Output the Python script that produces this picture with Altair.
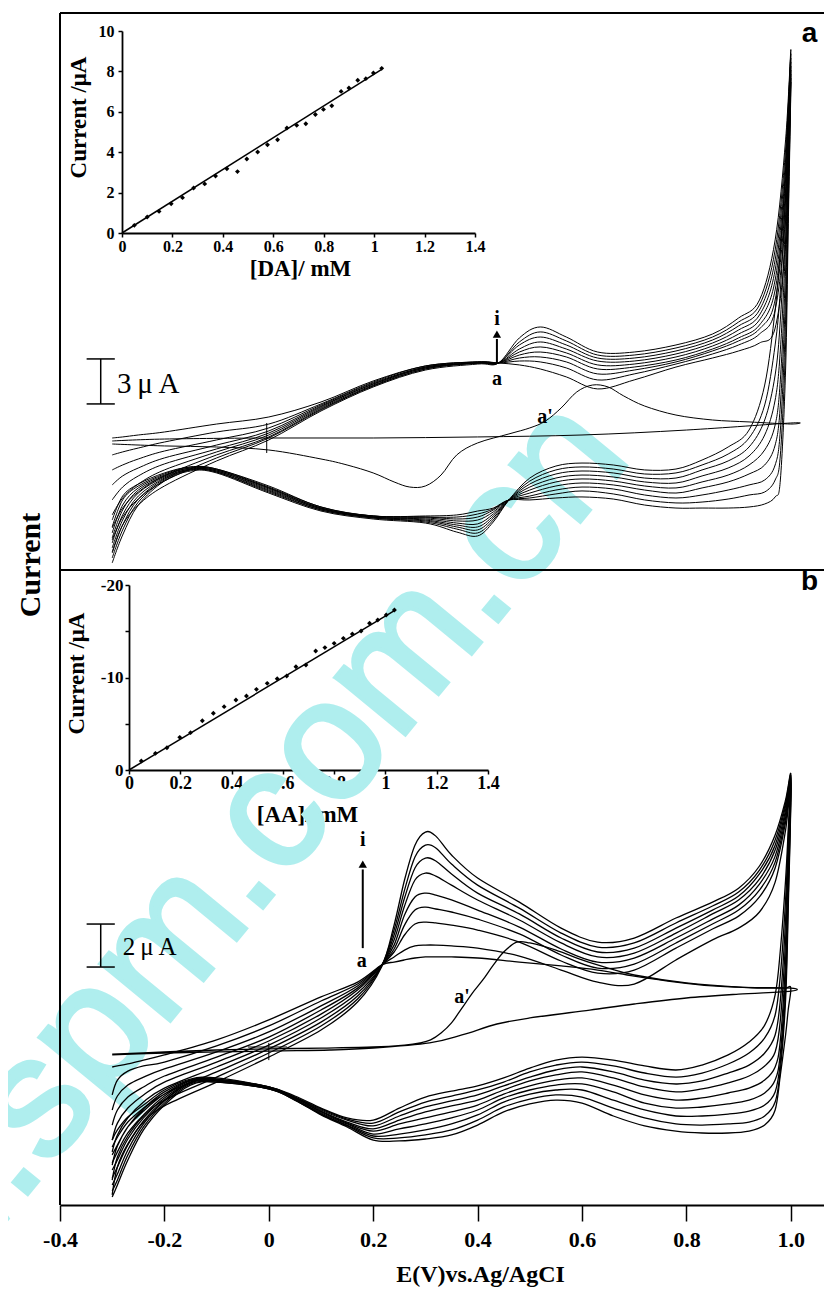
import altair as alt
import pandas as pd

W, H = 764, 1192

# ---------------- panel a : DA voltammograms (E in V, I in uA) ----------------
A_FWD_E = [-0.30, -0.28, -0.25, -0.20, -0.10, 0.00, 0.10, 0.20, 0.30, 0.40, 0.44,
           0.48, 0.52, 0.57, 0.63, 0.70, 0.78, 0.85, 0.90, 0.94, 0.97, 0.99, 1.00]
A_REV_E = [1.00, 0.995, 0.99, 0.98, 0.97, 0.95, 0.92, 0.88, 0.83, 0.78, 0.72, 0.66, 0.60, 0.55, 0.50,
           0.46, 0.43, 0.40, 0.36, 0.30, 0.20, 0.10, 0.00, -0.10, -0.15, -0.20, -0.25, -0.28, -0.30]
A_FWD = [
    [0, 0.07, 0.2, 0.4, 0.93, 1.4, 2.4, 3.8, 4.8, 5.07, 5.0, 4.87, 4.6, 4.07, 3.27, 3.87, 4.73, 5.33, 5.8, 6.33, 7.33, 13.2, 23.73],
    [-1.13, -0.93, -0.67, -0.27, 0.4, 0.93, 2.27, 3.73, 4.8, 5.07, 5.0, 5.13, 5.07, 4.67, 3.87, 4.27, 4.93, 5.6, 6.2, 6.93, 8.53, 14.87, 24.0],
    [-2.13, -1.8, -1.4, -0.87, -0.13, 0.67, 2.2, 3.67, 4.73, 5.07, 5.0, 5.33, 5.4, 5.07, 4.27, 4.53, 5.07, 5.8, 6.47, 7.27, 9.2, 15.87, 24.27],
    [-3.13, -2.53, -2.0, -1.33, -0.47, 0.47, 2.13, 3.6, 4.73, 5.0, 5.0, 5.53, 5.73, 5.4, 4.6, 4.73, 5.2, 5.93, 6.67, 7.53, 9.87, 16.53, 24.53],
    [-4.13, -3.27, -2.53, -1.73, -0.73, 0.33, 2.07, 3.6, 4.67, 5.0, 5.0, 5.73, 6.07, 5.67, 4.87, 4.93, 5.4, 6.13, 6.93, 7.87, 10.53, 17.2, 24.8],
    [-5.13, -4.0, -3.07, -2.13, -0.93, 0.2, 2.0, 3.53, 4.67, 5.0, 5.0, 5.93, 6.4, 5.93, 5.13, 5.13, 5.6, 6.33, 7.2, 8.2, 11.2, 17.87, 25.07],
    [-6.0, -4.67, -3.6, -2.53, -1.13, 0.07, 1.93, 3.47, 4.6, 5.0, 5.0, 6.2, 6.73, 6.2, 5.33, 5.33, 5.8, 6.53, 7.47, 8.53, 11.87, 18.53, 25.33],
    [-6.8, -5.27, -4.07, -2.87, -1.33, 0, 1.87, 3.47, 4.6, 5.0, 5.0, 6.4, 7.07, 6.47, 5.53, 5.53, 6.0, 6.73, 7.73, 8.87, 12.53, 19.2, 25.6],
    [-7.6, -5.8, -4.47, -3.2, -1.53, -0.13, 1.8, 3.4, 4.53, 4.93, 5.0, 6.67, 7.4, 6.73, 5.73, 5.73, 6.2, 6.93, 8.0, 9.2, 13.2, 19.87, 25.87],
]
A_REV = [
    [23.73, 13.87, 4.53, -2.8, -3.93, -4.4, -4.6, -4.67, -4.67, -4.67, -4.47, -4.07, -3.93, -4.0, -4.13, -4.13, -4.67, -4.87, -5.13, -5.2, -5.2, -4.6, -3.2, -2.07, -1.93, -2.33, -3.07, -3.87, -5.47],
    [24.0, 14.87, 6.2, -1.13, -2.8, -3.6, -3.8, -4.07, -4.27, -4.33, -4.13, -3.73, -3.53, -3.73, -4.0, -4.13, -4.73, -5.07, -5.27, -5.27, -5.2, -4.6, -3.27, -2.07, -1.93, -2.4, -3.2, -4.13, -5.93],
    [24.27, 15.87, 7.87, 0.53, -1.8, -2.8, -3.13, -3.47, -3.8, -4.0, -3.8, -3.4, -3.27, -3.47, -3.87, -4.13, -4.8, -5.27, -5.4, -5.27, -5.2, -4.67, -3.33, -2.13, -2.0, -2.47, -3.33, -4.47, -6.33],
    [24.53, 16.87, 9.53, 2.2, -0.47, -1.8, -2.4, -2.93, -3.33, -3.67, -3.47, -3.13, -3.0, -3.2, -3.67, -4.13, -4.93, -5.47, -5.53, -5.33, -5.27, -4.67, -3.33, -2.13, -2.0, -2.53, -3.47, -4.8, -6.67],
    [24.8, 17.87, 11.2, 3.87, 0.87, -0.8, -1.8, -2.47, -2.93, -3.33, -3.2, -2.87, -2.73, -2.93, -3.47, -4.13, -5.07, -5.73, -5.67, -5.4, -5.27, -4.73, -3.4, -2.2, -2.07, -2.6, -3.67, -5.13, -7.0],
    [25.07, 18.87, 12.87, 5.87, 2.53, 0.2, -1.2, -2.0, -2.53, -3.0, -2.93, -2.6, -2.47, -2.67, -3.27, -4.13, -5.2, -5.93, -5.8, -5.47, -5.27, -4.73, -3.47, -2.2, -2.07, -2.67, -3.87, -5.47, -7.33],
    [25.33, 19.87, 14.53, 7.87, 4.2, 1.2, -0.6, -1.53, -2.13, -2.67, -2.67, -2.33, -2.2, -2.4, -3.07, -4.13, -5.33, -6.13, -5.93, -5.53, -5.33, -4.8, -3.53, -2.27, -2.13, -2.73, -4.07, -5.8, -7.67],
    [25.6, 20.87, 16.2, 9.87, 6.2, 2.2, 0, -1.07, -1.8, -2.33, -2.4, -2.07, -1.93, -2.13, -2.87, -4.13, -5.47, -6.33, -6.07, -5.6, -5.33, -4.8, -3.6, -2.27, -2.13, -2.8, -4.27, -6.13, -8.0],
    [25.87, 21.87, 17.87, 12.53, 8.53, 3.53, 0.53, -0.6, -1.47, -2.07, -2.13, -1.8, -1.67, -1.87, -2.67, -4.13, -5.6, -6.53, -6.27, -5.67, -5.4, -4.87, -3.67, -2.33, -2.2, -2.87, -4.47, -6.47, -8.33],
]
# curve a'
A_P_FWD_E = [-0.30, -0.20, -0.10, 0.00, 0.10, 0.15, 0.20, 0.24, 0.27, 0.30, 0.33, 0.36, 0.40, 0.46,
             0.50, 0.53, 0.56, 0.59, 0.62, 0.65, 0.68, 0.72, 0.78, 0.85, 0.92, 1.00]
A_P_FWD_I = [-0.4, -0.53, -0.6, -0.8, -1.4, -1.8, -2.33, -2.93, -3.27, -3.2, -2.47, -1.13, -0.33, 0.27,
             0.67, 1.13, 2.0, 3.07, 3.53, 3.4, 2.8, 2.13, 1.53, 1.2, 1.07, 0.93]
A_P_REV_E = [1.00, 0.80, 0.60, 0.40, 0.20, 0.00, -0.20, -0.30]
A_P_REV_I = [1.0, 0.53, 0.2, 0.07, 0.0, 0.0, -0.07, -0.2]

# ---------------- panel b : AA voltammograms ----------------
B_FWD_E = [-0.30, -0.29, -0.27, -0.24, -0.20, -0.10, 0.00, 0.10, 0.17, 0.216,
           0.24, 0.26, 0.28, 0.30, 0.32, 0.35, 0.40, 0.48, 0.56, 0.63, 0.70, 0.78, 0.85, 0.90, 0.94, 0.97, 0.99, 1.00]
B_REV_E = [1.00, 0.995, 0.99, 0.98, 0.97, 0.95, 0.92, 0.88, 0.83, 0.78, 0.72, 0.66, 0.60, 0.55, 0.50, 0.45,
           0.40, 0.35, 0.30, 0.25, 0.20, 0.15, 0.10, 0.05, 0.00, -0.10, -0.15, -0.20, -0.24, -0.27, -0.29, -0.30]
B_FWD = [
    [-0.79, -0.74, -0.65, -0.47, -0.23, 0.47, 1.40, 2.47, 3.16, 3.95, 4.09, 4.19, 4.28, 4.33, 4.33, 4.33, 4.28, 4.09, 3.91, 3.72, 3.44, 3.16, 2.98, 2.93, 2.88, 2.88, 2.88, 2.88],
    [-2.09, -1.40, -0.98, -0.74, -0.56, 0.19, 1.12, 2.28, 3.07, 3.95, 4.33, 4.65, 4.84, 4.88, 4.88, 4.84, 4.74, 4.37, 3.72, 3.16, 3.07, 4.19, 5.12, 5.67, 6.42, 7.81, 10.23, 12.09],
    [-2.79, -2.14, -1.63, -1.26, -0.88, -0.09, 0.84, 2.05, 2.98, 3.95, 4.56, 5.35, 5.86, 5.95, 5.91, 5.81, 5.58, 5.02, 4.14, 3.58, 3.72, 4.74, 5.63, 6.23, 7.12, 8.47, 10.60, 12.28],
    [-3.49, -2.79, -2.19, -1.72, -1.21, -0.33, 0.60, 1.86, 2.88, 3.95, 4.70, 5.81, 6.51, 6.65, 6.56, 6.42, 6.09, 5.40, 4.42, 3.81, 4.0, 4.98, 5.86, 6.51, 7.44, 8.74, 10.79, 12.37],
    [-4.19, -3.40, -2.70, -2.09, -1.49, -0.56, 0.42, 1.67, 2.79, 3.95, 4.88, 6.28, 7.12, 7.30, 7.21, 6.98, 6.51, 5.72, 4.70, 4.09, 4.28, 5.21, 6.09, 6.74, 7.72, 9.02, 10.98, 12.47],
    [-4.74, -3.95, -3.16, -2.42, -1.77, -0.79, 0.23, 1.49, 2.65, 3.91, 5.12, 6.70, 7.91, 8.23, 8.09, 7.67, 6.98, 6.05, 4.98, 4.33, 4.51, 5.44, 6.33, 6.98, 7.95, 9.30, 11.16, 12.56],
    [-5.35, -4.47, -3.58, -2.74, -2.05, -1.02, 0.05, 1.30, 2.51, 3.91, 5.35, 7.07, 8.47, 8.93, 8.79, 8.19, 7.30, 6.33, 5.21, 4.56, 4.74, 5.67, 6.51, 7.16, 8.19, 9.53, 11.35, 12.65],
    [-6.05, -4.98, -4.0, -3.07, -2.33, -1.26, -0.14, 1.12, 2.37, 3.91, 5.58, 7.44, 8.98, 9.53, 9.40, 8.65, 7.67, 6.60, 5.44, 4.79, 4.98, 5.91, 6.70, 7.35, 8.37, 9.77, 11.49, 12.74],
    [-6.74, -5.44, -4.37, -3.35, -2.60, -1.49, -0.33, 0.93, 2.23, 3.86, 5.81, 7.91, 9.53, 10.14, 9.95, 9.07, 8.0, 6.88, 5.67, 5.02, 5.21, 6.14, 6.88, 7.53, 8.56, 10.0, 11.63, 12.84],
]
B_REV = [
    [2.88, 1.86, 0.70, -1.16, -2.79, -3.49, -3.77, -3.86, -3.86, -3.77, -3.53, -3.07, -2.47, -2.33, -2.51, -2.88, -3.49, -3.95, -4.14, -4.23, -4.19, -3.58, -3.02, -2.33, -1.81, -1.49, -1.63, -2.56, -3.72, -5.12, -6.28, -6.84],
    [12.09, 6.51, 2.33, -0.93, -2.42, -3.07, -3.35, -3.44, -3.49, -3.44, -3.16, -2.70, -2.19, -2.09, -2.28, -2.65, -3.26, -3.72, -3.95, -4.09, -4.09, -3.53, -2.98, -2.33, -1.81, -1.49, -1.58, -2.47, -3.58, -4.88, -6.05, -6.56],
    [12.28, 6.98, 2.79, -0.56, -1.95, -2.56, -2.84, -2.98, -3.07, -3.07, -2.79, -2.33, -1.86, -1.86, -2.05, -2.42, -3.02, -3.44, -3.72, -3.91, -4.0, -3.49, -2.98, -2.28, -1.81, -1.44, -1.53, -2.37, -3.44, -4.65, -5.77, -6.28],
    [12.37, 7.53, 3.49, -0.14, -1.40, -2.0, -2.33, -2.51, -2.65, -2.70, -2.47, -1.95, -1.58, -1.63, -1.86, -2.23, -2.79, -3.16, -3.44, -3.67, -3.91, -3.44, -2.93, -2.28, -1.77, -1.44, -1.49, -2.33, -3.30, -4.42, -5.44, -5.95],
    [12.47, 8.14, 4.19, 0.47, -0.79, -1.40, -1.77, -2.0, -2.23, -2.33, -2.09, -1.63, -1.30, -1.40, -1.67, -2.05, -2.56, -2.88, -3.16, -3.44, -3.77, -3.40, -2.88, -2.23, -1.77, -1.40, -1.49, -2.23, -3.16, -4.14, -5.12, -5.58],
    [12.56, 8.74, 5.12, 1.40, -0.09, -0.74, -1.21, -1.53, -1.81, -1.95, -1.72, -1.30, -1.02, -1.16, -1.44, -1.86, -2.33, -2.60, -2.88, -3.26, -3.67, -3.35, -2.84, -2.23, -1.77, -1.40, -1.44, -2.14, -3.02, -3.86, -4.74, -5.26],
    [12.65, 9.30, 6.05, 2.33, 0.70, -0.14, -0.70, -1.07, -1.44, -1.58, -1.40, -1.02, -0.79, -0.93, -1.26, -1.67, -2.09, -2.37, -2.65, -3.07, -3.53, -3.26, -2.79, -2.19, -1.72, -1.35, -1.40, -2.05, -2.84, -3.58, -4.42, -4.88],
    [12.74, 9.77, 6.98, 3.49, 1.63, 0.56, -0.14, -0.65, -1.07, -1.26, -1.07, -0.74, -0.56, -0.70, -1.02, -1.49, -1.86, -2.14, -2.42, -2.88, -3.40, -3.21, -2.74, -2.19, -1.72, -1.35, -1.40, -1.95, -2.70, -3.35, -4.05, -4.51],
    [12.84, 10.23, 7.91, 4.65, 2.56, 1.16, 0.37, -0.23, -0.70, -0.93, -0.74, -0.47, -0.33, -0.47, -0.84, -1.30, -1.67, -1.91, -2.19, -2.70, -3.26, -3.16, -2.70, -2.14, -1.72, -1.30, -1.35, -1.86, -2.56, -3.12, -3.72, -4.19],
]
B_P_FWD_E = [-0.30, -0.20, -0.10, 0.00, 0.10, 0.20, 0.26, 0.29, 0.31, 0.33, 0.35, 0.37, 0.39, 0.41, 0.43,
             0.45, 0.475, 0.50, 0.55, 0.60, 0.65, 0.70, 0.80, 0.90, 1.00]
B_P_FWD_I = [-0.19, -0.09, 0.0, 0.05, 0.09, 0.14, 0.23, 0.33, 0.47, 0.79, 1.26, 1.95, 2.65, 3.26, 3.95,
             4.56, 5.02, 4.98, 4.65, 4.19, 3.81, 3.49, 3.12, 2.93, 2.88]
B_P_REV_E = [1.00, 0.90, 0.80, 0.70, 0.615, 0.50, 0.437, 0.37, 0.308, 0.20, 0.117, 0.00, -0.20, -0.30]
B_P_REV_I = [2.74, 2.60, 2.42, 2.14, 1.86, 1.49, 1.21, 0.70, 0.33, 0.09, 0.0, -0.05, -0.14, -0.23]

# ---------------- insets ----------------
DA_CONC = [0.049, 0.10, 0.147, 0.195, 0.24, 0.284, 0.328, 0.371, 0.416, 0.458, 0.495, 0.538, 0.577,
           0.617, 0.654, 0.693, 0.729, 0.767, 0.799, 0.832, 0.869, 0.90, 0.935, 0.967, 0.997, 1.03]
DA_CURR = [0.38, 0.79, 1.07, 1.45, 1.75, 2.23, 2.43, 2.82, 3.18, 3.04, 3.66, 4.01, 4.37, 4.62, 5.2,
           5.33, 5.41, 5.87, 6.12, 6.30, 7.01, 7.18, 7.56, 7.64, 7.92, 8.15]
DA_FIT_X = [0.0, 1.03]
DA_FIT_Y = [0.0, 8.1]
AA_CONC = [0.048, 0.103, 0.148, 0.198, 0.24, 0.286, 0.329, 0.371, 0.417, 0.458, 0.497, 0.539, 0.578,
           0.615, 0.651, 0.69, 0.728, 0.764, 0.80, 0.836, 0.871, 0.905, 0.938, 0.97, 1.003, 1.035]
AA_CURR = [-0.97, -1.80, -2.41, -3.53, -4.04, -5.33, -6.13, -6.85, -7.57, -8.0, -8.72, -9.37, -9.87,
           -10.16, -11.17, -11.35, -12.86, -13.23, -13.69, -14.23, -14.70, -15.03, -15.86, -16.22, -16.76, -17.30]
AA_FIT_X = [0.0, 1.04]
AA_FIT_Y = [0.0, -17.3]

X_TICKS = [-0.4, -0.2, 0.0, 0.2, 0.4, 0.6, 0.8, 1.0]
INSET_X_TICKS = [0, 0.2, 0.4, 0.6, 0.8, 1.0, 1.2, 1.4]
DA_Y_TICKS = [0, 2, 4, 6, 8, 10]
AA_Y_TICKS = [0, -5, -10, -15, -20]

# ---------------- build tables ----------------
for rows, grid in ((A_FWD, A_FWD_E), (A_REV, A_REV_E), (B_FWD, B_FWD_E), (B_REV, B_REV_E)):
    for r in rows:
        assert len(r) == len(grid), (len(r), len(grid))


def path_points(fe, fi, re_, ri):
    pts = list(zip(fe, fi))
    back = list(zip(re_, ri))
    if back and pts and back[0] == pts[-1]:
        back = back[1:]          # the sweep turns at the same vertex
    return pts + back


def loop_table(fwd_e, fwd, rev_e, rev, prime):
    recs = []
    for k, (f, r) in enumerate(zip(fwd, rev)):
        for o, (e, i) in enumerate(path_points(fwd_e, f, rev_e, r)):
            recs.append({"E": e, "I": i, "curve": f"c{k}", "o": o})
    for o, (e, i) in enumerate(path_points(*prime)):
        recs.append({"E": e, "I": i, "curve": "prime", "o": o})
    return pd.DataFrame(recs)


dfa = loop_table(A_FWD_E, A_FWD, A_REV_E, A_REV, (A_P_FWD_E, A_P_FWD_I, A_P_REV_E, A_P_REV_I))
dfb = loop_table(B_FWD_E, B_FWD, B_REV_E, B_REV, (B_P_FWD_E, B_P_FWD_I, B_P_REV_E, B_P_REV_I))

XSC = alt.Scale(domain=[-0.4, 1.0636], range=[0, W], nice=False, zero=False)
YA = alt.Scale(domain=[-8.8, 28.33], range=[557, 0], nice=False, zero=False)
YB = alt.Scale(domain=[-7.21, 22.33], range=[H, 557], nice=False, zero=False)
SERIF = "Liberation Serif"


def X(field="E", axis=None):
    return alt.X(f"{field}:Q", scale=XSC, axis=axis)


def Y(scale, field="I"):
    return alt.Y(f"{field}:Q", scale=scale, axis=None)


def rule_layer(recs, yscale):
    return alt.Chart(pd.DataFrame(recs)).mark_rule(color="black").encode(
        x=X(), x2="E2:Q", y=Y(yscale), y2="I2:Q",
        strokeWidth=alt.StrokeWidth("w:Q", scale=None))


def text_layer(recs, yscale, **kw):
    return alt.Chart(pd.DataFrame(recs)).mark_text(color="black", **kw).encode(
        x=X(), y=Y(yscale), text="t:N")


main_x_axis = alt.Axis(
    orient="bottom", values=X_TICKS, tickSize=16, tickWidth=1.5, tickColor="black",
    domainColor="black", domainWidth=2, labelFlush=False, labelOverlap=False,
    labelExpr="datum.value == 0 ? '0' : (datum.value < 0 ? '-' + format(-datum.value, '.1f') : format(datum.value, '.1f'))",
    labelFont=SERIF, labelFontSize=22, labelFontWeight="bold", labelColor="black", labelPadding=8,
    title="E(V)vs.Ag/AgCI", titleFont=SERIF, titleFontSize=24, titleFontWeight="bold", titleColor="black",
    titleX=420, titleY=69, titleBaseline="middle", grid=False)

watermark = alt.Chart(pd.DataFrame({"E": [-0.111], "I": [3.67], "t": ["www.spm.com.cn"]})).mark_text(
    font="Liberation Sans", fontSize=171, angle=309.4, color="#afeeee", stroke="#afeeee",
    strokeWidth=4, align="center", baseline="alphabetic").encode(x=X(), y=Y(YB), text="t:N")

frame_a = rule_layer([
    {"E": -0.4, "E2": 1.0636, "I": 28.33, "I2": 28.33, "w": 2},
    {"E": -0.4, "E2": 1.0636, "I": -8.8, "I2": -8.8, "w": 2},
    {"E": -0.4, "E2": -0.4, "I": -8.8, "I2": 28.33, "w": 2},
    # crosshair at E = 0
    {"E": -0.004, "E2": -0.004, "I": -1.0, "I2": 1.0, "w": 1},
    # scale bar 3 uA
    {"E": -0.322, "E2": -0.322, "I": 2.27, "I2": 5.27, "w": 1.5},
    {"E": -0.349, "E2": -0.295, "I": 2.27, "I2": 2.27, "w": 1.5},
    {"E": -0.349, "E2": -0.295, "I": 5.27, "I2": 5.27, "w": 1.5},
    # arrow shaft
    {"E": 0.437, "E2": 0.437, "I": 5.0, "I2": 6.6, "w": 2},
], YA)

frame_b = rule_layer([
    {"E": -0.4, "E2": -0.4, "I": -7.21, "I2": 22.33, "w": 2},
    {"E": 0.0, "E2": 0.0, "I": -0.47, "I2": 0.33, "w": 1},
    {"E": -0.04, "E2": 0.035, "I": 0.14, "I2": 0.14, "w": 1},
    {"E": -0.322, "E2": -0.322, "I": 3.86, "I2": 5.86, "w": 1.5},
    {"E": -0.349, "E2": -0.295, "I": 3.86, "I2": 3.86, "w": 1.5},
    {"E": -0.349, "E2": -0.295, "I": 5.86, "I2": 5.86, "w": 1.5},
    {"E": 0.18, "E2": 0.18, "I": 4.74, "I2": 8.4, "w": 2},
], YB)

curves_a = alt.Chart(dfa).mark_line(color="black", strokeWidth=1, interpolate="cardinal").encode(
    x=X(), y=Y(YA), detail="curve:N", order=alt.Order("o:Q"))
curves_b = alt.Chart(dfb).mark_line(color="black", strokeWidth=1.3, interpolate="cardinal").encode(
    x=X(axis=main_x_axis), y=Y(YB), detail="curve:N", order=alt.Order("o:Q"))

heads_a = alt.Chart(pd.DataFrame({"E": [0.437], "I": [6.93]})).mark_point(
    shape="triangle-up", filled=True, size=70, color="black", opacity=1).encode(x=X(), y=Y(YA))
heads_b = alt.Chart(pd.DataFrame({"E": [0.18], "I": [8.65]})).mark_point(
    shape="triangle-up", filled=True, size=70, color="black", opacity=1).encode(x=X(), y=Y(YB))

lab_a = text_layer([
    {"E": 0.437, "I": 7.53, "t": "i"},
    {"E": 0.437, "I": 3.53, "t": "a"},
    {"E": 0.529, "I": 1.0, "t": "a'"},
], YA, font=SERIF, fontSize=20, fontWeight="bold", align="center", baseline="alphabetic")
lab_b = text_layer([
    {"E": 0.18, "I": 9.49, "t": "i"},
    {"E": 0.178, "I": 3.86, "t": "a"},
    {"E": 0.37, "I": 2.19, "t": "a'"},
], YB, font=SERIF, fontSize=20, fontWeight="bold", align="center", baseline="alphabetic")

bar_a = text_layer([{"E": -0.291, "I": 3.0, "t": "3\u2009\u03bc\u2009A"}], YA, font=SERIF, fontSize=29,
                   align="left", baseline="alphabetic")
bar_b = text_layer([{"E": -0.280, "I": 4.42, "t": "2\u2009\u03bc\u2009A"}], YB, font=SERIF, fontSize=25,
                   align="left", baseline="alphabetic")

letter_a = text_layer([{"E": 1.036, "I": 26.4, "t": "a"}], YA, font="Liberation Sans", fontSize=28,
                      fontWeight="bold", align="center", baseline="alphabetic")
letter_b = text_layer([{"E": 1.036, "I": 21.40, "t": "b"}], YB, font="Liberation Sans", fontSize=28,
                      fontWeight="bold", align="center", baseline="alphabetic")
current = text_layer([{"E": -0.455, "I": -8.47, "t": "Current"}], YA, font=SERIF, fontSize=30,
                     fontWeight="bold", align="center", baseline="middle", angle=270)

# ---- insets ----
IAX = alt.Scale(domain=[0, 1.4], range=[62, 415], nice=False, zero=False)
IAY = alt.Scale(domain=[0, 10], range=[220, 18], nice=False, zero=False)
IBX = alt.Scale(domain=[0, 1.4], range=[69, 428], nice=False, zero=False)
IBY = alt.Scale(domain=[0, -20], range=[757, 572], nice=False, zero=False)


def inset_axis(orient, offset, values, title, tx, ty, lsize, **kw):
    return alt.Axis(orient=orient, offset=offset, values=values, title=title, grid=False,
                    tickSize=4, tickWidth=1.5, tickColor="black", domainColor="black", domainWidth=1.8,
                    labelFont=SERIF, labelFontSize=lsize, labelFontWeight="bold", labelColor="black",
                    labelFlush=False, labelOverlap=False,
                    titleFont=SERIF, titleFontSize=23, titleFontWeight="bold", titleColor="black",
                    titleX=tx, titleY=ty, titleBaseline="middle", titleAlign="center", **kw)


ins_a_pts = alt.Chart(pd.DataFrame({"c": DA_CONC, "i": DA_CURR})).mark_point(
    shape="diamond", filled=True, size=24, color="black", opacity=1).encode(
    x=alt.X("c:Q", scale=IAX, axis=inset_axis("bottom", -(H - 220), INSET_X_TICKS, "[DA]/ mM",
                                               240, 35, 16, format="~g", labelPadding=1)),
    y=alt.Y("i:Q", scale=IAY, axis=inset_axis("left", -62, DA_Y_TICKS, "Current /\u03bcA",
                                              -44, 104, 16, labelPadding=4, titleAngle=270)))
ins_a_fit = alt.Chart(pd.DataFrame({"c": DA_FIT_X, "i": DA_FIT_Y})).mark_line(
    color="black", strokeWidth=1.5).encode(
    x=alt.X("c:Q", scale=IAX, axis=None), y=alt.Y("i:Q", scale=IAY, axis=None))

ins_b_pts = alt.Chart(pd.DataFrame({"c": AA_CONC, "i": AA_CURR})).mark_point(
    shape="diamond", filled=True, size=24, color="black", opacity=1).encode(
    x=alt.X("c:Q", scale=IBX, axis=inset_axis("bottom", -(H - 757), INSET_X_TICKS, "[AA]/ mM",
                                               247, 44, 18, format="~g", labelPadding=0)),
    y=alt.Y("i:Q", scale=IBY, axis=inset_axis(
        "left", -69, AA_Y_TICKS, "Current /\u03bcA", -53, 660, 17, labelPadding=2, titleAngle=270,
        labelExpr="datum.value == 0 ? '0' : (datum.value % 10 == 0 ? '' + datum.value : '')")))
ins_b_fit = alt.Chart(pd.DataFrame({"c": AA_FIT_X, "i": AA_FIT_Y})).mark_line(
    color="black", strokeWidth=1.5).encode(
    x=alt.X("c:Q", scale=IBX, axis=None), y=alt.Y("i:Q", scale=IBY, axis=None))

chart = alt.layer(
    watermark, frame_a, frame_b, curves_a, curves_b, heads_a, heads_b, lab_a, lab_b,
    bar_a, bar_b, letter_a, letter_b, current,
    ins_a_fit, ins_a_pts, ins_b_fit, ins_b_pts,
).resolve_scale(x="independent", y="independent").properties(
    width=W, height=H, autosize=alt.AutoSizeParams(type="none"),
    padding={"left": 52, "top": 5, "right": 0, "bottom": 84},
).configure_view(stroke=None).configure_axis(grid=False)

chart.save("out.html", embed_options={"renderer": "svg", "actions": False})
